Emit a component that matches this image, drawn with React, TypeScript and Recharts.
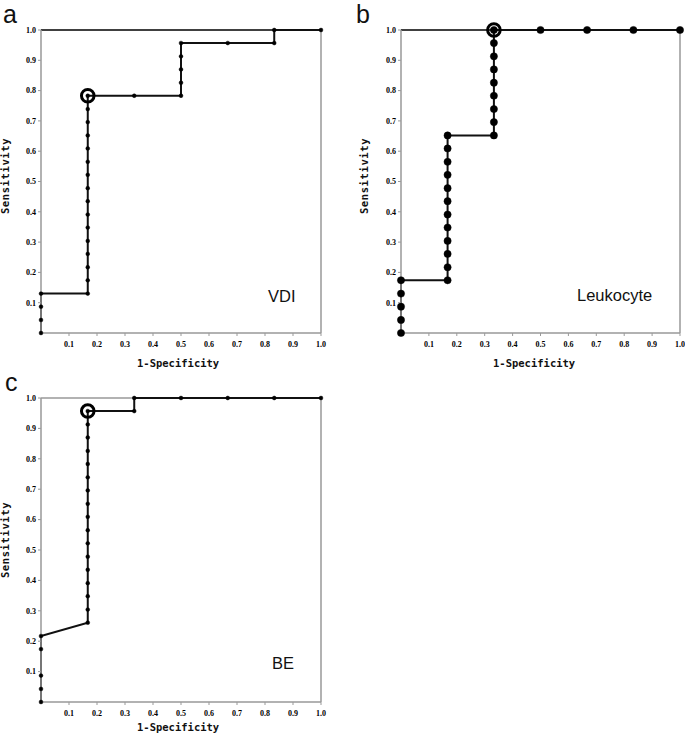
import React from 'react';
import { LineChart, Line, XAxis, YAxis, ReferenceLine, ReferenceDot } from 'recharts';

// 1-specificity / sensitivity pairs
const vdiFpr = [0, 0, 0, 0,
  0.167, 0.167, 0.167, 0.167, 0.167, 0.167, 0.167, 0.167, 0.167, 0.167, 0.167, 0.167, 0.167, 0.167, 0.167, 0.167,
  0.333, 0.5, 0.5, 0.5, 0.5, 0.5, 0.667, 0.833, 0.833, 1.0];
const vdiSens = [0, 0.043, 0.087, 0.13,
  0.13, 0.174, 0.217, 0.261, 0.304, 0.348, 0.391, 0.435, 0.478, 0.522, 0.565, 0.609, 0.652, 0.696, 0.739, 0.783,
  0.783, 0.783, 0.826, 0.87, 0.913, 0.957, 0.957, 0.957, 1.0, 1.0];

const leukFpr = [0, 0, 0, 0, 0,
  0.167, 0.167, 0.167, 0.167, 0.167, 0.167, 0.167, 0.167, 0.167, 0.167, 0.167, 0.167,
  0.333, 0.333, 0.333, 0.333, 0.333, 0.333, 0.333, 0.333, 0.333,
  0.5, 0.667, 0.833, 1.0];
const leukSens = [0, 0.043, 0.087, 0.13, 0.174,
  0.174, 0.217, 0.261, 0.304, 0.348, 0.391, 0.435, 0.478, 0.522, 0.565, 0.609, 0.652,
  0.652, 0.696, 0.739, 0.783, 0.826, 0.87, 0.913, 0.957, 1.0,
  1.0, 1.0, 1.0, 1.0];

const beFpr = [0, 0, 0, 0, 0,
  0.167, 0.167, 0.167, 0.167, 0.167, 0.167, 0.167, 0.167, 0.167, 0.167, 0.167, 0.167, 0.167, 0.167, 0.167, 0.167, 0.167,
  0.333, 0.333, 0.5, 0.667, 0.833, 1.0];
const beSens = [0, 0.043, 0.087, 0.174, 0.217,
  0.261, 0.304, 0.348, 0.391, 0.435, 0.478, 0.522, 0.565, 0.609, 0.652, 0.696, 0.739, 0.783, 0.826, 0.87, 0.913, 0.957,
  0.957, 1.0, 1.0, 1.0, 1.0, 1.0];

// optimal cut-off points (circled)
const cutoffA = [0.167, 0.783];
const cutoffB = [0.333, 1.0];
const cutoffC = [0.167, 0.957];

const ticks = [0.1, 0.2, 0.3, 0.4, 0.5, 0.6, 0.7, 0.8, 0.9, 1.0];

const toRows = (fpr: number[], sens: number[]) => fpr.map((f, i) => ({ fpr: f, sens: sens[i] }));

const tickStyle = { fontFamily: '"Liberation Serif", serif', fontSize: 8, fontWeight: 700, fill: '#000' };
const axisLbl: React.CSSProperties = {
  position: 'absolute', fontFamily: '"DejaVu Sans Mono", monospace', fontWeight: 700, fontSize: 10.5,
  color: '#111', whiteSpace: 'nowrap',
};
const panelLetter: React.CSSProperties = {
  position: 'absolute', fontFamily: '"Liberation Sans", Arial, sans-serif', fontSize: 25, color: '#111', lineHeight: 1.1,
};
const tag: React.CSSProperties = {
  position: 'absolute', fontFamily: '"Liberation Sans", Arial, sans-serif', fontSize: 16.5, color: '#111', lineHeight: 1,
};

type RocProps = {
  rows: { fpr: number; sens: number }[];
  cut: number[];
  width: number; height: number;
  margin: { top: number; right: number; left: number; bottom: number };
  yw: number; xh: number;
  r: number; topColor: string;
};

function Roc({ rows, cut, width, height, margin, yw, xh, r, topColor }: RocProps) {
  return (
    <LineChart width={width} height={height} data={rows} margin={margin}>
      <XAxis dataKey="fpr" type="number" domain={[0, 1]} ticks={ticks} tickFormatter={(v) => Number(v).toFixed(1)}
        height={xh} tickSize={3} tick={{ ...tickStyle, dy: 3 }} axisLine={{ stroke: '#999', strokeWidth: 1.5 }}
        tickLine={{ stroke: '#999' }} interval={0} />
      <YAxis type="number" domain={[0, 1]} ticks={ticks} tickFormatter={(v) => Number(v).toFixed(1)}
        width={yw} tickSize={3} tick={tickStyle} axisLine={{ stroke: '#999', strokeWidth: 1.5 }}
        tickLine={{ stroke: '#999' }} interval={0} />
      <ReferenceLine y={1} stroke={topColor} strokeWidth={1.5} />
      <ReferenceLine x={1} stroke="#999" strokeWidth={1.5} />
      <Line type="linear" dataKey="sens" stroke="#111" strokeWidth={2} isAnimationActive={false}
        dot={{ r, fill: '#000', stroke: '#000', strokeWidth: 0.5 }} />
      <ReferenceDot x={cut[0]} y={cut[1]} r={6.3} fill="none" stroke="#000" strokeWidth={3} />
    </LineChart>
  );
}

export default function App() {
  return (
    <div style={{ position: 'absolute', left: 0, top: 0, width: 685, height: 739, background: '#fff' }}>
      <div style={{ position: 'absolute', left: 0, top: 0 }}>
        <Roc rows={toRows(vdiFpr, vdiSens)} cut={cutoffA} width={340} height={380}
          margin={{ top: 30, right: 19, left: 0, bottom: 0 }} yw={41} xh={47} r={1.9} topColor="#000" />
      </div>
      <div style={{ position: 'absolute', left: 340, top: 0 }}>
        <Roc rows={toRows(leukFpr, leukSens)} cut={cutoffB} width={345} height={380}
          margin={{ top: 30, right: 5, left: 0, bottom: 0 }} yw={61} xh={47} r={3.6} topColor="#000" />
      </div>
      <div style={{ position: 'absolute', left: 0, top: 380 }}>
        <Roc rows={toRows(beFpr, beSens)} cut={cutoffC} width={340} height={359}
          margin={{ top: 18, right: 19, left: 0, bottom: 0 }} yw={41} xh={37} r={1.9} topColor="#999" />
      </div>

      <div style={{ ...panelLetter, left: 3, top: 1 }}>a</div>
      <div style={{ ...panelLetter, left: 356, top: 1 }}>b</div>
      <div style={{ ...panelLetter, left: 5, top: 369 }}>c</div>

      <div style={{ ...tag, left: 268, top: 288 }}>VDI</div>
      <div style={{ ...tag, left: 577, top: 287 }}>Leukocyte</div>
      <div style={{ ...tag, left: 272, top: 655 }}>BE</div>

      <div style={{ ...axisLbl, left: 137, top: 357 }}>1-Specificity</div>
      <div style={{ ...axisLbl, left: 493, top: 357 }}>1-Specificity</div>
      <div style={{ ...axisLbl, left: 137, top: 721 }}>1-Specificity</div>

      {[[5, 176], [364, 176], [5, 540]].map(([cx, cy], i) => (
        <div key={i} style={{ ...axisLbl, left: cx, top: cy, letterSpacing: 0.6,
          transform: 'translate(-50%, -50%) rotate(-90deg)' }}>Sensitivity</div>
      ))}
    </div>
  );
}
